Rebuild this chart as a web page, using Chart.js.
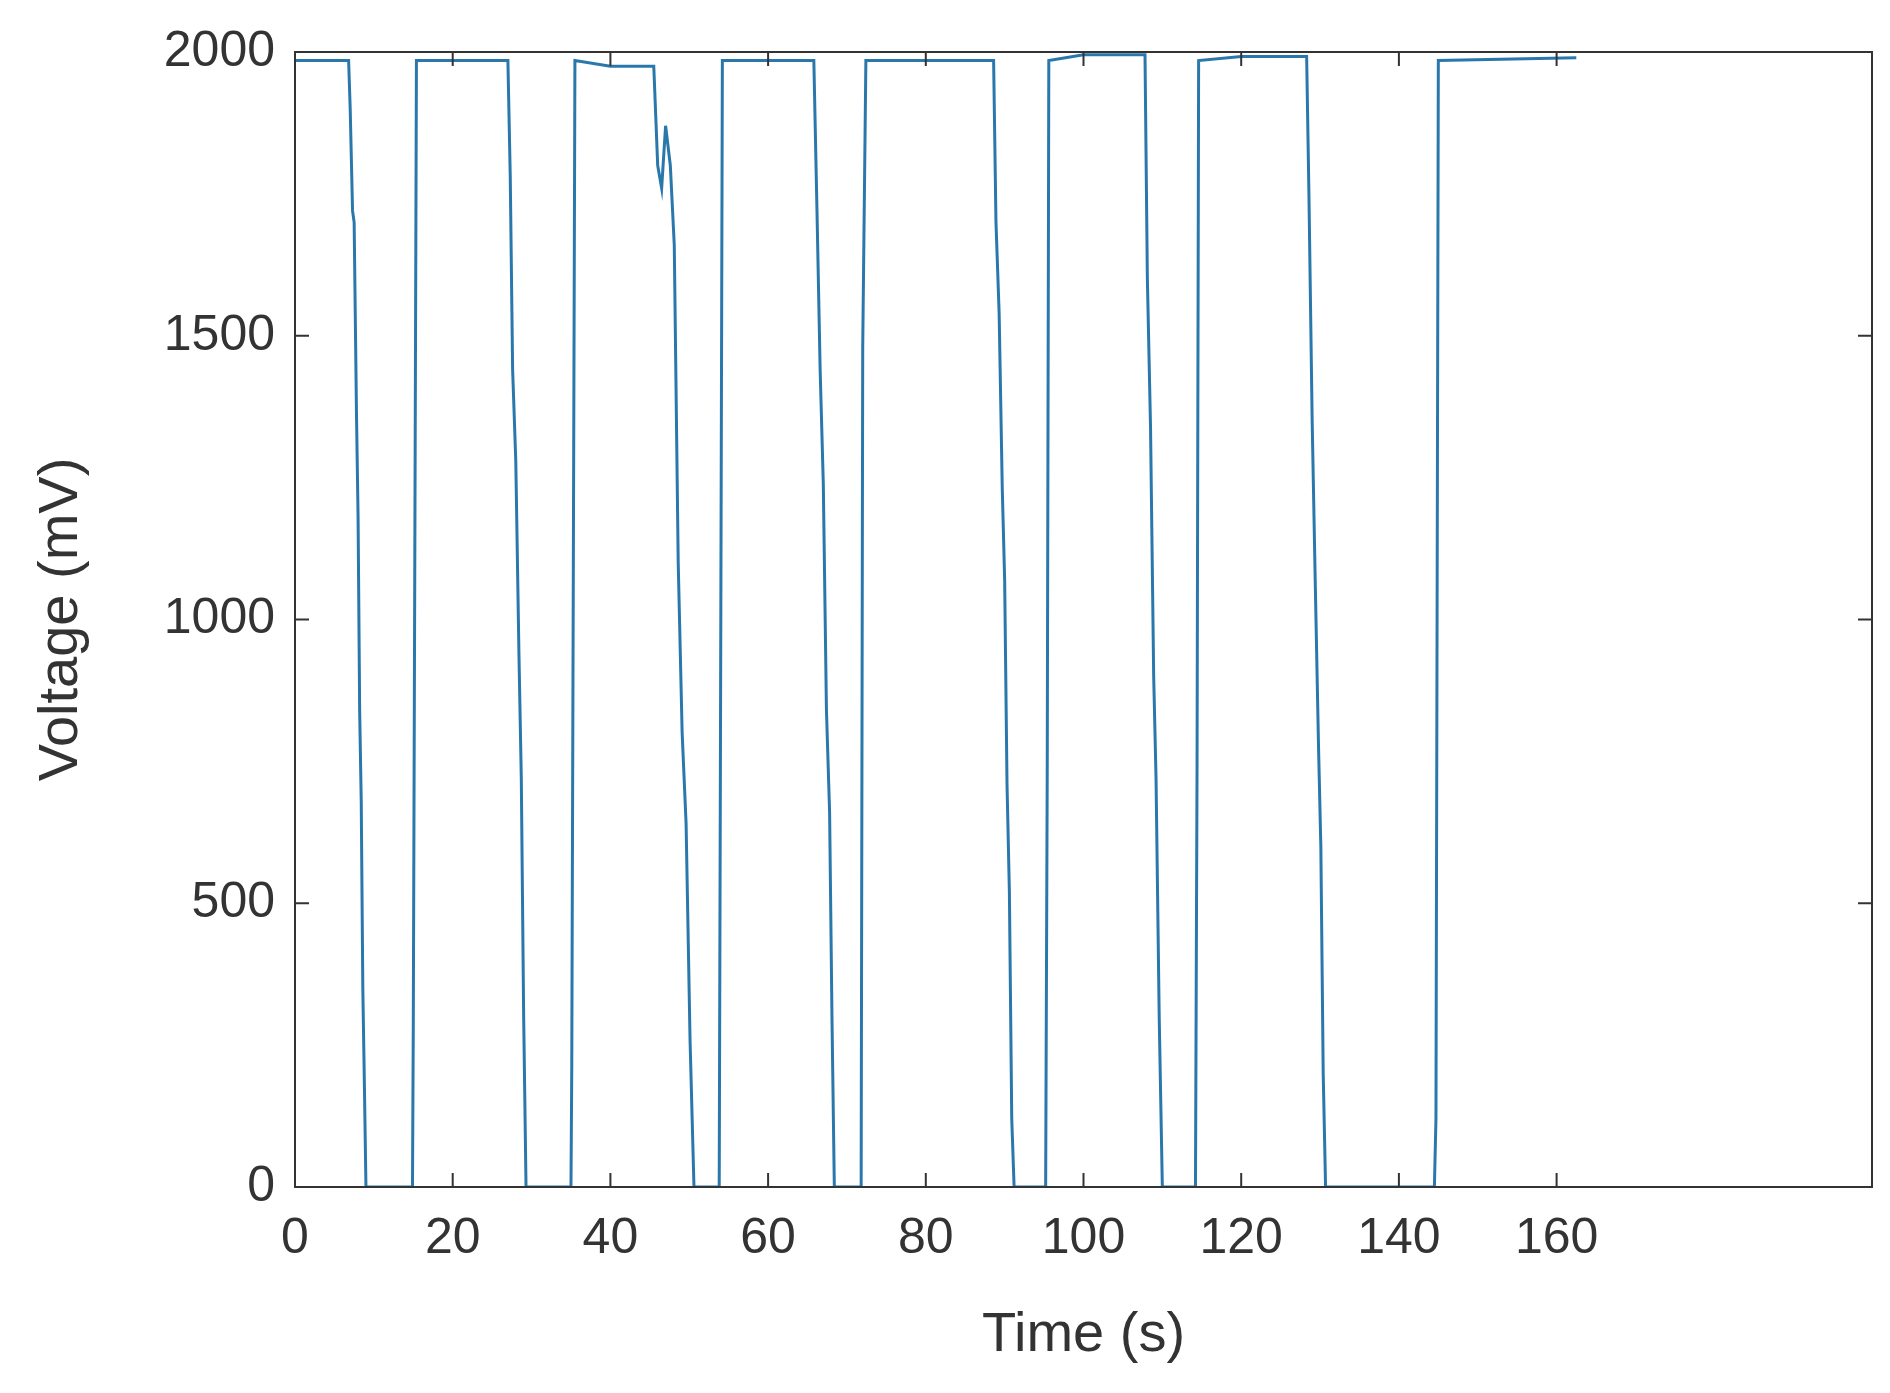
<!DOCTYPE html>
<html>
<head>
<meta charset="utf-8">
<script src="https://cdn.jsdelivr.net/npm/chart.js@4"></script>
<style>
  html, body { margin: 0; background: #fff; }
  #wrap { width: 1890px; height: 1393px; }
</style>
</head>
<body>
<div id="wrap"><canvas id="voltChart"></canvas></div>
<script>
// time (s) and voltage (mV)
const timeS = [
  0, 6.8, 7.0, 7.3, 7.5, 7.8, 8.0, 8.2, 8.4, 8.6, 8.8, 9.0, 14.9, 15.0, 15.4,
  27.0, 27.3, 27.6, 28.0, 28.4, 28.7, 29.0, 29.3, 35.0, 35.1, 35.5,
  40.0, 45.5, 46.0, 46.5, 47.0, 47.6, 48.1, 48.6, 49.1, 49.6, 50.1, 50.6, 53.8, 54.2,
  65.8, 66.2, 66.6, 67.0, 67.4, 67.8, 68.1, 68.4, 71.8, 72.0, 72.4,
  88.6, 88.9, 89.3, 89.7, 90.0, 90.3, 90.6, 90.9, 91.2, 95.2, 95.4, 95.6,
  100.0, 107.8, 108.1, 108.5, 108.9, 109.2, 109.6, 110.0, 114.2, 114.4, 114.6,
  120.0, 128.3, 128.6, 129.0, 129.4, 129.8, 130.1, 130.4, 130.7, 144.5, 144.7, 145.0, 162.5
];
const voltageMV = [
  1985, 1985, 1900, 1720, 1700, 1360, 1180, 840, 680, 350, 180, 0, 0, 280, 1985,
  1985, 1780, 1440, 1280, 940, 720, 300, 0, 0, 210, 1985,
  1975, 1975, 1800, 1760, 1870, 1800, 1660, 1100, 800, 640, 260, 0, 0, 1985,
  1985, 1720, 1440, 1240, 840, 660, 300, 0, 0, 1480, 1985,
  1985, 1700, 1540, 1230, 1070, 710, 520, 120, 0, 0, 730, 1985,
  1995, 1995, 1600, 1340, 900, 720, 300, 0, 0, 740, 1985,
  1992, 1992, 1740, 1350, 1060, 780, 600, 200, 0, 0, 120, 1985, 1990
];
const xTicks = [0, 20, 40, 60, 80, 100, 120, 140, 160];
const yTicks = [0, 500, 1000, 1500, 2000];

const points = timeS.map((t, i) => ({ x: t, y: voltageMV[i] }));

// MATLAB-style inward ticks on all four sides
const inwardTicks = {
  id: "inwardTicks",
  afterDraw(chart) {
    const { ctx, chartArea: a, scales } = chart;
    ctx.save();
    ctx.strokeStyle = "#333";
    ctx.lineWidth = 2;
    ctx.beginPath();
    xTicks.forEach((v) => {
      const px = scales.x.getPixelForValue(v);
      ctx.moveTo(px, a.bottom); ctx.lineTo(px, a.bottom - 14);
      ctx.moveTo(px, a.top); ctx.lineTo(px, a.top + 14);
    });
    yTicks.forEach((v) => {
      const py = scales.y.getPixelForValue(v);
      ctx.moveTo(a.left, py); ctx.lineTo(a.left + 14, py);
      ctx.moveTo(a.right, py); ctx.lineTo(a.right - 14, py);
    });
    ctx.stroke();
    ctx.strokeRect(a.left, a.top, a.right - a.left, a.bottom - a.top);
    ctx.restore();
  }
};

new Chart(document.getElementById("voltChart"), {
  type: "scatter",
  data: {
    datasets: [{
      data: points,
      showLine: true,
      borderColor: "#2a78ab",
      borderWidth: 3,
      pointRadius: 0,
      tension: 0
    }]
  },
  options: {
    responsive: true,
    maintainAspectRatio: false,
    animation: false,
    layout: { padding: { top: 52, right: 18, left: 24, bottom: 20 } },
    plugins: { legend: { display: false }, tooltip: { enabled: false } },
    scales: {
      x: {
        type: "linear", min: 0, max: 200,
        afterBuildTicks: (s) => { s.ticks = xTicks.map((v) => ({ value: v })); },
        afterFit: (s) => { s.height = 186; },
        grid: { display: false },
        border: { display: false },
        ticks: { color: "#333", padding: 14, maxRotation: 0, callback: (v) => String(v), font: { family: "Liberation Sans", size: 50 } },
        title: { display: true, text: "Time (s)", color: "#333", padding: { top: 0 }, font: { family: "Liberation Sans", size: 56 } }
      },
      y: {
        type: "linear", min: 0, max: 2000,
        afterBuildTicks: (s) => { s.ticks = yTicks.map((v) => ({ value: v })); },
        afterFit: (s) => { s.width = 271; },
        grid: { display: false },
        border: { display: false },
        ticks: { color: "#333", padding: 12, callback: (v) => String(v), font: { family: "Liberation Sans", size: 50 } },
        title: { display: true, text: "Voltage (mV)", color: "#333", padding: { bottom: 4 }, font: { family: "Liberation Sans", size: 56 } }
      }
    }
  },
  plugins: [inwardTicks]
});
</script>
</body>
</html>
